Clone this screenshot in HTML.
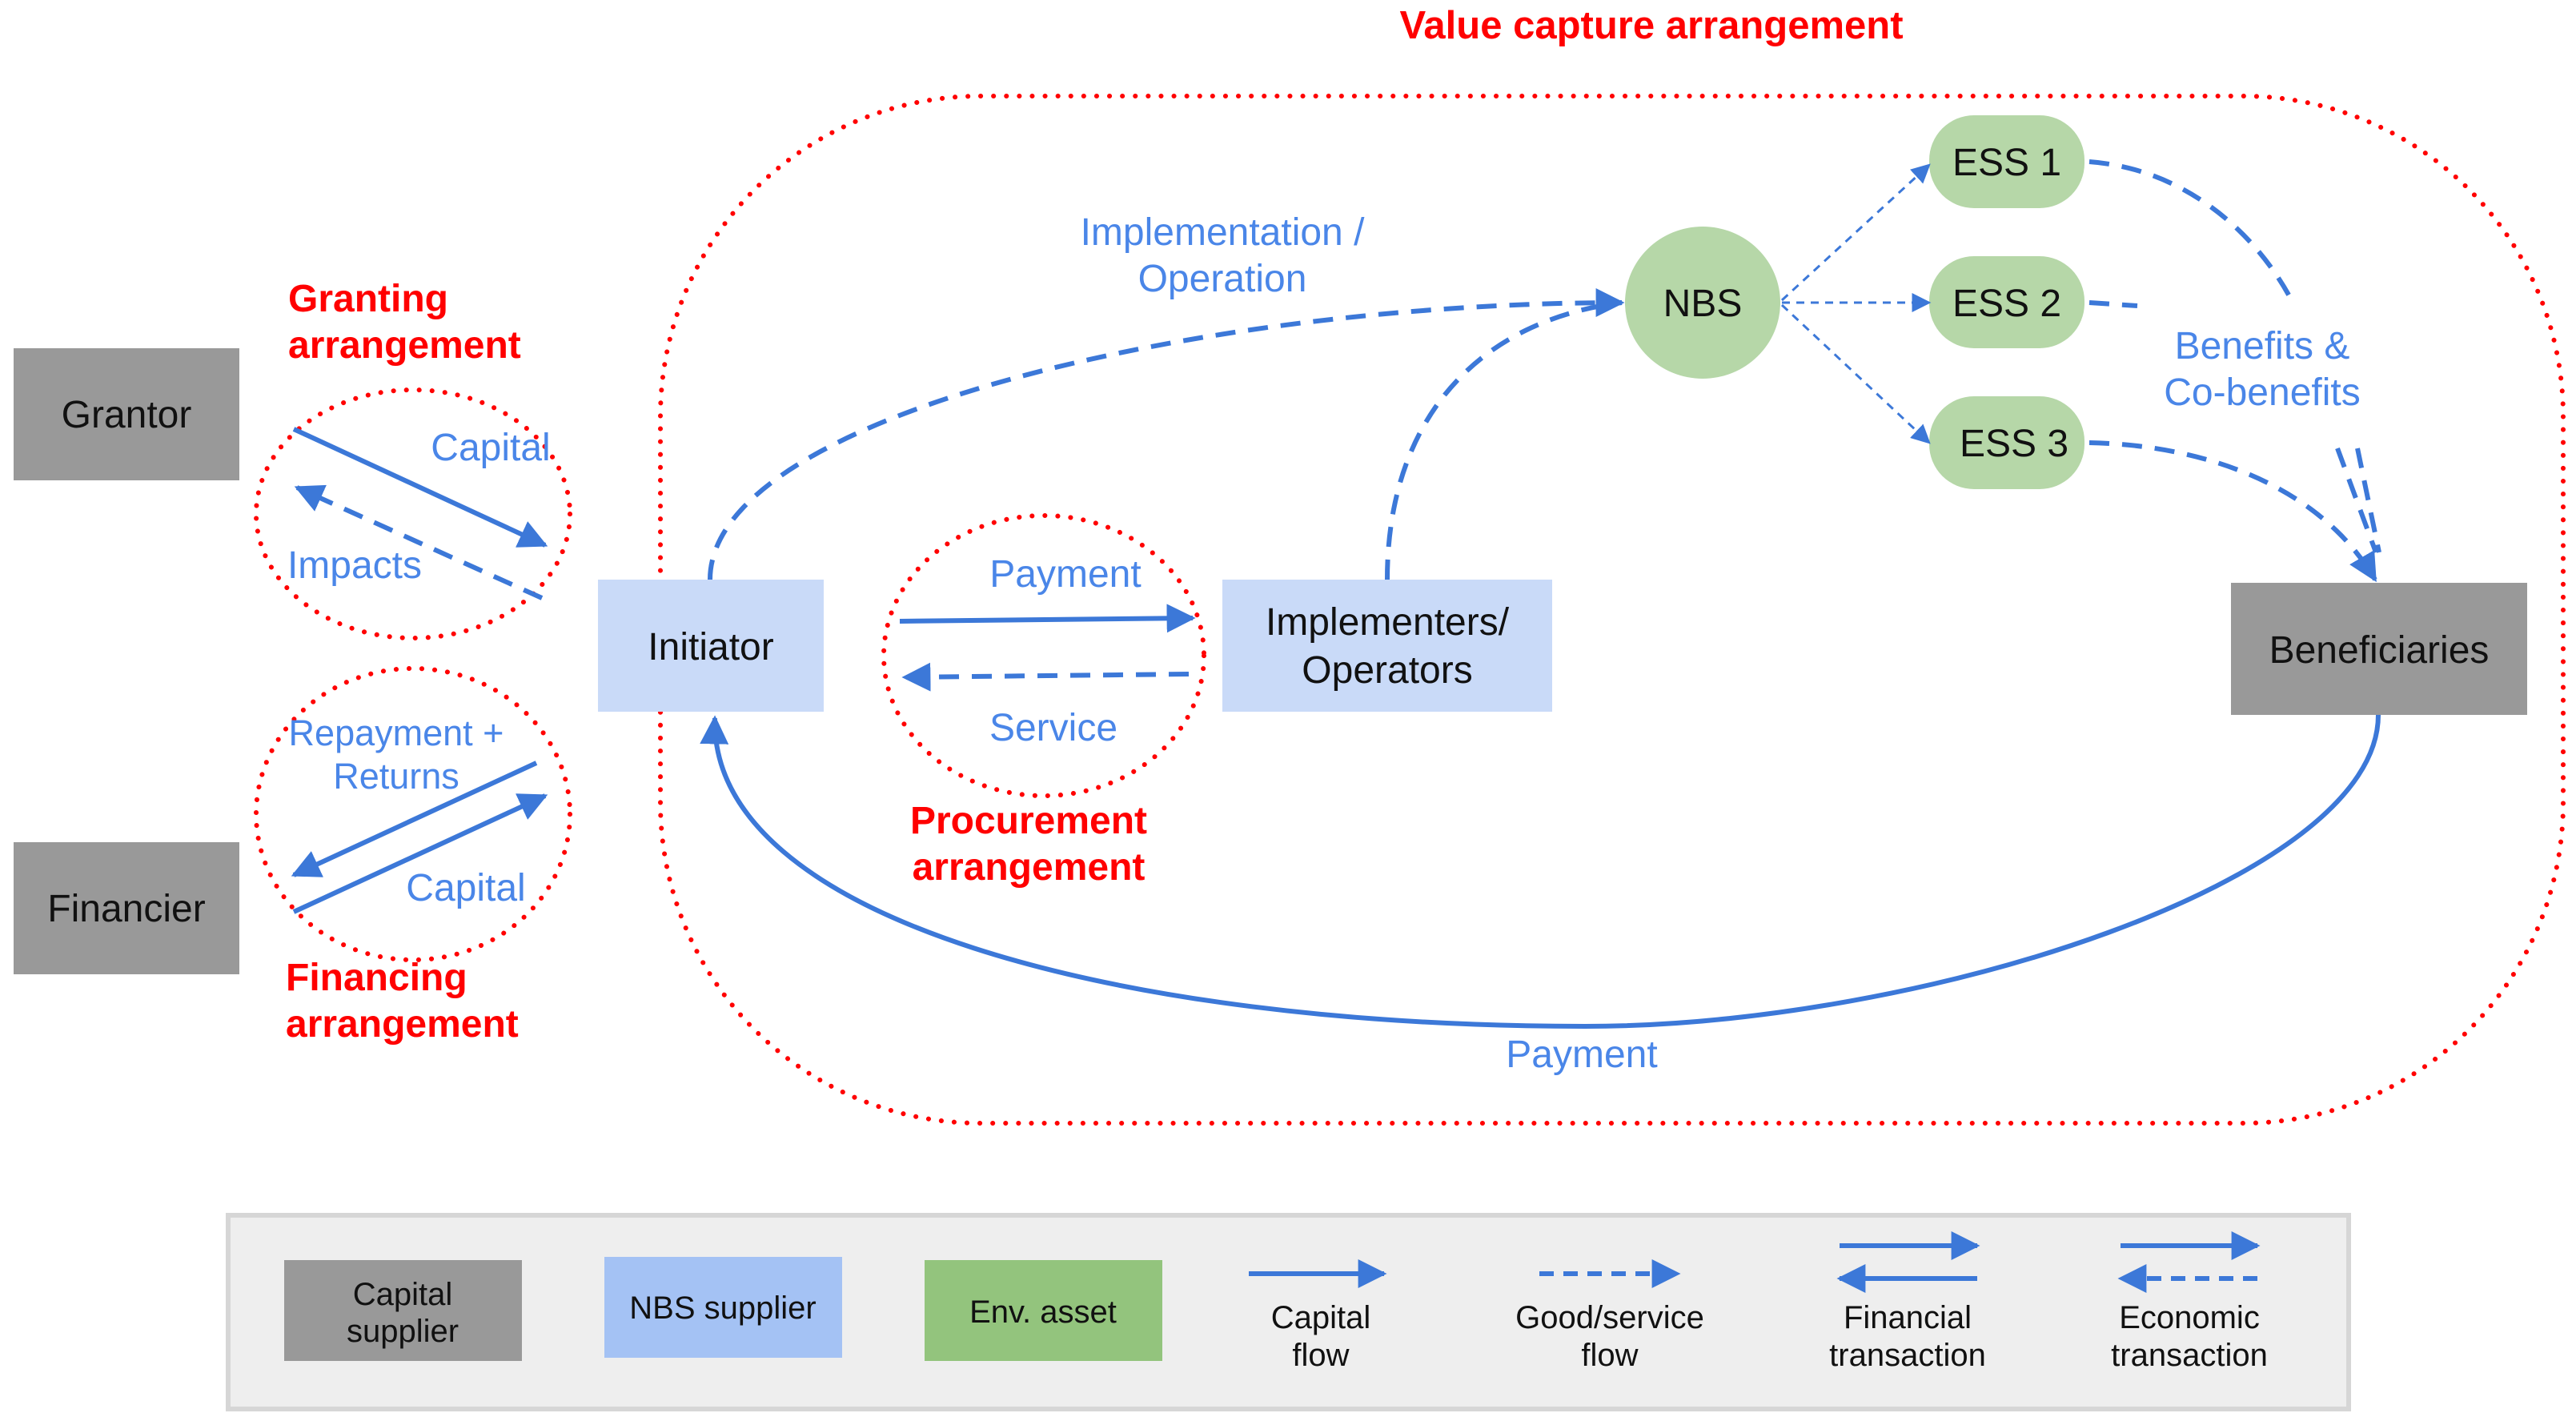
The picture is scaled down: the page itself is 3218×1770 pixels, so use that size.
<!DOCTYPE html>
<html><head><meta charset="utf-8"><style>
html,body{margin:0;padding:0;background:#fff;}
svg{display:block;}
text{font-family:"Liberation Sans",Arial,sans-serif;}
</style></head><body>
<svg width="3218" height="1770" viewBox="0 0 3218 1770" xmlns="http://www.w3.org/2000/svg">
<defs>
<marker id="ah" viewBox="0 0 10 10" refX="9" refY="5" markerWidth="6" markerHeight="6" orient="auto-start-reverse" markerUnits="strokeWidth"><path d="M0,0 L10,5 L0,10 z" fill="#3c78d8"/></marker>
<marker id="ahs" viewBox="0 0 10 10" refX="9" refY="5" markerWidth="8" markerHeight="8" orient="auto" markerUnits="strokeWidth"><path d="M0,0 L10,5 L0,10 z" fill="#3c78d8"/></marker>
</defs>

<text x="2063" y="48" font-size="49" font-weight="bold" fill="#ff0000" text-anchor="middle">Value capture arrangement</text>

<rect x="825" y="120" width="2377" height="1283" rx="400" ry="400" fill="none" stroke="#ff0000" stroke-width="6" stroke-dasharray="0.1 16" stroke-linecap="round"/>

<rect x="17" y="435" width="282" height="165" fill="#999999"/>
<text x="158" y="534" font-size="48" text-anchor="middle" fill="#111">Grantor</text>
<rect x="17" y="1052" width="282" height="165" fill="#999999"/>
<text x="158" y="1151" font-size="48" text-anchor="middle" fill="#111">Financier</text>

<text x="360" y="389" font-size="48" font-weight="bold" fill="#ff0000">Granting</text>
<text x="360" y="447" font-size="48" font-weight="bold" fill="#ff0000">arrangement</text>
<ellipse cx="516" cy="642" rx="196" ry="155" fill="none" stroke="#ff0000" stroke-width="6" stroke-dasharray="0.1 16" stroke-linecap="round"/>
<line x1="367" y1="536" x2="681" y2="681" stroke="#3c78d8" stroke-width="6" marker-end="url(#ah)"/>
<line x1="677" y1="747" x2="371" y2="609" stroke="#3c78d8" stroke-width="6" stroke-dasharray="25 16" marker-end="url(#ah)"/>
<text x="613" y="575" font-size="48" fill="#4a86e8" text-anchor="middle">Capital</text>
<text x="443" y="722" font-size="48" fill="#4a86e8" text-anchor="middle">Impacts</text>

<ellipse cx="516" cy="1017" rx="196" ry="182" fill="none" stroke="#ff0000" stroke-width="6" stroke-dasharray="0.1 16" stroke-linecap="round"/>
<line x1="670" y1="953" x2="367" y2="1093" stroke="#3c78d8" stroke-width="6" marker-end="url(#ah)"/>
<line x1="367" y1="1139" x2="681" y2="994" stroke="#3c78d8" stroke-width="6" marker-end="url(#ah)"/>
<text x="495" y="931" font-size="45" fill="#4a86e8" text-anchor="middle">Repayment +</text>
<text x="495" y="985" font-size="45" fill="#4a86e8" text-anchor="middle">Returns</text>
<text x="582" y="1125" font-size="48" fill="#4a86e8" text-anchor="middle">Capital</text>
<text x="357" y="1237" font-size="48" font-weight="bold" fill="#ff0000">Financing</text>
<text x="357" y="1295" font-size="48" font-weight="bold" fill="#ff0000">arrangement</text>

<rect x="747" y="724" width="282" height="165" fill="#c9daf8"/>
<text x="888" y="824" font-size="48" text-anchor="middle" fill="#111">Initiator</text>

<ellipse cx="1304" cy="819" rx="200" ry="175" fill="none" stroke="#ff0000" stroke-width="6" stroke-dasharray="0.1 16" stroke-linecap="round"/>
<line x1="1124" y1="776" x2="1490" y2="772" stroke="#3c78d8" stroke-width="6" marker-end="url(#ah)"/>
<line x1="1485" y1="842" x2="1130" y2="846" stroke="#3c78d8" stroke-width="6" stroke-dasharray="25 16" marker-end="url(#ah)"/>
<text x="1331" y="733" font-size="48" fill="#4a86e8" text-anchor="middle">Payment</text>
<text x="1316" y="925" font-size="48" fill="#4a86e8" text-anchor="middle">Service</text>
<text x="1285" y="1041" font-size="48" font-weight="bold" fill="#ff0000" text-anchor="middle">Procurement</text>
<text x="1285" y="1099" font-size="48" font-weight="bold" fill="#ff0000" text-anchor="middle">arrangement</text>

<rect x="1527" y="724" width="412" height="165" fill="#c9daf8"/>
<text x="1733" y="793" font-size="48" text-anchor="middle" fill="#111">Implementers/</text>
<text x="1733" y="853" font-size="48" text-anchor="middle" fill="#111">Operators</text>

<path d="M887,724 C887,520 1500,378 2026,378" fill="none" stroke="#3c78d8" stroke-width="6" stroke-dasharray="25 16" marker-end="url(#ah)"/>
<path d="M1733,724 C1733,520 1850,400 2026,378" fill="none" stroke="#3c78d8" stroke-width="6" stroke-dasharray="25 16"/>
<text x="1527" y="306" font-size="48" fill="#4a86e8" text-anchor="middle">Implementation /</text>
<text x="1527" y="364" font-size="48" fill="#4a86e8" text-anchor="middle">Operation</text>

<ellipse cx="2127" cy="378" rx="97" ry="95" fill="#b6d7a8"/>
<text x="2127" y="395" font-size="48" text-anchor="middle" fill="#111">NBS</text>

<rect x="2410" y="144" width="194" height="116" rx="56" fill="#b6d7a8"/>
<text x="2507" y="219" font-size="48" text-anchor="middle" fill="#111">ESS 1</text>
<rect x="2410" y="320" width="194" height="115" rx="56" fill="#b6d7a8"/>
<text x="2507" y="395" font-size="48" text-anchor="middle" fill="#111">ESS 2</text>
<rect x="2410" y="495" width="194" height="116" rx="56" fill="#b6d7a8"/>
<text x="2516" y="570" font-size="48" text-anchor="middle" fill="#111">ESS 3</text>

<line x1="2226" y1="375" x2="2410" y2="206" stroke="#3c78d8" stroke-width="3" stroke-dasharray="10 8" marker-end="url(#ahs)"/>
<line x1="2226" y1="378" x2="2410" y2="378" stroke="#3c78d8" stroke-width="3" stroke-dasharray="10 8" marker-end="url(#ahs)"/>
<line x1="2226" y1="381" x2="2410" y2="553" stroke="#3c78d8" stroke-width="3" stroke-dasharray="10 8" marker-end="url(#ahs)"/>

<path d="M2610,202 C2720,210 2810,280 2860,370" fill="none" stroke="#3c78d8" stroke-width="6" stroke-dasharray="25 16"/>
<path d="M2610,378 L2670,382" fill="none" stroke="#3c78d8" stroke-width="6" stroke-dasharray="25 16"/>
<path d="M2610,553 C2760,556 2900,610 2967,724" fill="none" stroke="#3c78d8" stroke-width="6" stroke-dasharray="25 16" marker-end="url(#ah)"/>
<path d="M2920,560 L2968,690" fill="none" stroke="#3c78d8" stroke-width="6" stroke-dasharray="25 16"/>
<path d="M2945,560 L2972,690" fill="none" stroke="#3c78d8" stroke-width="6" stroke-dasharray="25 16"/>
<text x="2826" y="448" font-size="48" fill="#4a86e8" text-anchor="middle">Benefits &amp;</text>
<text x="2826" y="506" font-size="48" fill="#4a86e8" text-anchor="middle">Co-benefits</text>

<rect x="2787" y="728" width="370" height="165" fill="#999999"/>
<text x="2972" y="828" font-size="48" text-anchor="middle" fill="#111">Beneficiaries</text>

<path d="M2971,893 C2971,1100 2400,1282 1980,1282 C1400,1282 887,1150 893,897" fill="none" stroke="#3c78d8" stroke-width="6" marker-end="url(#ah)"/>
<text x="1976" y="1333" font-size="48" fill="#4a86e8" text-anchor="middle">Payment</text>

<rect x="285" y="1518" width="2649" height="242" fill="#eeeeee" stroke="#d6d6d6" stroke-width="6"/>
<rect x="355" y="1574" width="297" height="126" fill="#999999"/>
<text x="503" y="1630" font-size="40" text-anchor="middle" fill="#111">Capital</text>
<text x="503" y="1676" font-size="40" text-anchor="middle" fill="#111">supplier</text>
<rect x="755" y="1570" width="297" height="126" fill="#a4c2f4"/>
<text x="903" y="1647" font-size="40" text-anchor="middle" fill="#111">NBS supplier</text>
<rect x="1155" y="1574" width="297" height="126" fill="#93c47d"/>
<text x="1303" y="1652" font-size="40" text-anchor="middle" fill="#111">Env. asset</text>

<line x1="1560" y1="1591" x2="1729" y2="1591" stroke="#3c78d8" stroke-width="6" marker-end="url(#ah)"/>
<text x="1650" y="1659" font-size="40" text-anchor="middle" fill="#111">Capital</text>
<text x="1650" y="1706" font-size="40" text-anchor="middle" fill="#111">flow</text>

<line x1="1923" y1="1591" x2="2096" y2="1591" stroke="#3c78d8" stroke-width="6" stroke-dasharray="18 12" marker-end="url(#ah)"/>
<text x="2011" y="1659" font-size="40" text-anchor="middle" fill="#111">Good/service</text>
<text x="2011" y="1706" font-size="40" text-anchor="middle" fill="#111">flow</text>

<line x1="2298" y1="1556" x2="2470" y2="1556" stroke="#3c78d8" stroke-width="6" marker-end="url(#ah)"/>
<line x1="2470" y1="1597" x2="2298" y2="1597" stroke="#3c78d8" stroke-width="6" marker-end="url(#ah)"/>
<text x="2383" y="1659" font-size="40" text-anchor="middle" fill="#111">Financial</text>
<text x="2383" y="1706" font-size="40" text-anchor="middle" fill="#111">transaction</text>

<line x1="2649" y1="1556" x2="2820" y2="1556" stroke="#3c78d8" stroke-width="6" marker-end="url(#ah)"/>
<line x1="2820" y1="1597" x2="2649" y2="1597" stroke="#3c78d8" stroke-width="6" stroke-dasharray="18 12" marker-end="url(#ah)"/>
<text x="2735" y="1659" font-size="40" text-anchor="middle" fill="#111">Economic</text>
<text x="2735" y="1706" font-size="40" text-anchor="middle" fill="#111">transaction</text>
</svg>
</body></html>
